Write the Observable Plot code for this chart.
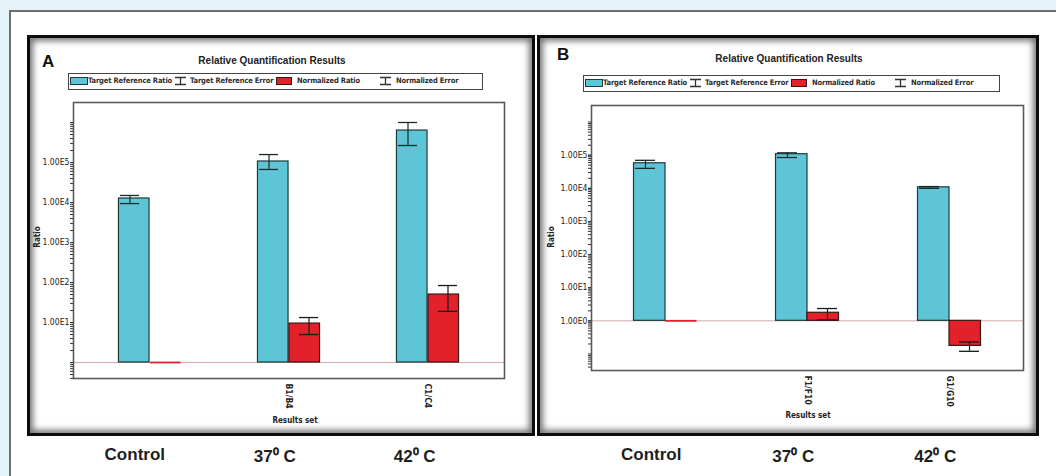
<!DOCTYPE html>
<html>
<head>
<meta charset="utf-8">
<script src="https://cdn.jsdelivr.net/npm/d3@7"></script>
<script src="https://cdn.jsdelivr.net/npm/@observablehq/plot@0.6"></script>
<style>
  html, body { margin: 0; padding: 0; background: #fff; }
  #fig { position: relative; width: 1056px; height: 476px; overflow: hidden; background: #fff;
         font-family: "Liberation Sans", Arial, sans-serif; }
  .abs { position: absolute; white-space: nowrap; }
  .panel { position: absolute; box-sizing: border-box; border: 3px solid #0c0c0c;
           box-shadow: inset 0 0 6px 3px rgba(0,0,0,0.55); background: #fff; }
  .title { font-weight: bold; font-size: 10px; color: #222; transform: translate(-50%, -50%); }
  .letter { font-weight: bold; font-size: 17px; color: #111; }
  .legend { position: absolute; box-sizing: border-box; border: 1.5px solid #444; height: 17px; background: #fff; }
  .legtext { position: absolute; top: 2px; font-family: "DejaVu Sans Condensed", "Liberation Sans Narrow", sans-serif;
             font-weight: bold; font-size: 7.5px; color: #2e2e2e; letter-spacing: -0.15px; }
  .sw { position: absolute; top: 3px; height: 8px; box-sizing: border-box; border: 1.2px solid #1d3a3c; }
  .axlab { font-family: "DejaVu Sans Condensed", sans-serif; font-weight: bold; font-size: 8px; color: #222; }
  .bottom { font-weight: bold; font-size: 17px; color: #1e1e1e; transform: translate(-50%, -50%); }
  svg text { font-family: "DejaVu Sans Condensed", "Liberation Sans Narrow", sans-serif; }
</style>
</head>
<body>
<div id="fig"></div>
<script>
// ---------------- data ----------------
const conditions = ["Control", "37⁰ C", "42⁰ C"];
const seriesNames = ["Target Reference Ratio", "Target Reference Error", "Normalized Ratio", "Normalized Error"];
const chartTitle = "Relative Quantification Results";

// Panel A
const resultSetsA = ["", "B1/B4", "C1/C4"];
const targetRatioA = [12600, 106000, 630000];
const targetErrLowA = [9400, 67000, 266000];
const targetErrHighA = [15000, 158000, 1000000];
const normRatioA = [1, 9.4, 50];
const normErrLowA = [null, 5, 19];
const normErrHighA = [null, 13.3, 84];
const yTicksA = [1e1, 1e2, 1e3, 1e4, 1e5];

// Panel B
const resultSetsB = ["", "F1/F10", "G1/G10"];
const targetRatioB = [57000, 107000, 10700];
const targetErrLowB = [40000, 85000, 10000];
const targetErrHighB = [70000, 118000, 11300];
const normRatioB = [1, 1.75, 0.175];
const normErrLowB = [null, 1.07, 0.12];
const normErrHighB = [null, 2.35, 0.23];
const yTicksB = [1e0, 1e1, 1e2, 1e3, 1e4, 1e5];

// ---------------- style / layout ----------------
const cyan = "#5ec5d6", red = "#e3212b", barStroke = "#1d3a3c";
const fig = document.getElementById("fig");

function el(cls, css, text) {
  const d = document.createElement("div");
  d.className = "abs " + (cls || "");
  Object.assign(d.style, css);
  if (text != null) d.textContent = text;
  fig.appendChild(d);
  return d;
}

// background strips and outer border
el("", {left: "0px", top: "0px", width: "1056px", height: "10px", background: "#e3f3f9"});
el("", {left: "0px", top: "0px", width: "9px", height: "476px", background: "#e3f3f9"});
el("", {left: "9px", top: "10px", width: "1047px", height: "1.5px", background: "#6f6f6f"});
el("", {left: "9px", top: "10px", width: "1.5px", height: "466px", background: "#6f6f6f"});

const fmt = d => d.toExponential(2).replace("e+", "E").replace("e-", "E-");

function errIcon(left) {
  const ns = "http://www.w3.org/2000/svg";
  const s = document.createElementNS(ns, "svg");
  s.setAttribute("width", 15); s.setAttribute("height", 10);
  s.innerHTML = '<path d="M2,1.5H13M2,8.5H13M7.5,1.5V8.5" stroke="#333" stroke-width="1.3" fill="none"/>';
  s.style.position = "absolute"; s.style.left = left + "px"; s.style.top = "2px";
  return s;
}

function makePanel(cfg) {
  // frame
  el("panel", {left: cfg.frame[0] + "px", top: cfg.frame[1] + "px", width: cfg.frame[2] + "px", height: cfg.frame[3] + "px"});
  // letter + title
  el("letter", {left: cfg.letter[0] + "px", top: cfg.letter[1] + "px"}, cfg.name);
  el("title", {left: cfg.title[0] + "px", top: cfg.title[1] + "px"}, chartTitle);
  // legend
  const lg = el("legend", {left: cfg.legend[0] + "px", top: cfg.legend[1] + "px", width: cfg.legend[2] + "px"});
  const sw1 = document.createElement("div"); sw1.className = "sw";
  Object.assign(sw1.style, {left: "1px", width: "18px", background: cyan}); lg.appendChild(sw1);
  const sw2 = document.createElement("div"); sw2.className = "sw";
  Object.assign(sw2.style, {left: "207px", width: "16px", background: red, borderColor: "#3a1515"}); lg.appendChild(sw2);
  lg.appendChild(errIcon(104));
  lg.appendChild(errIcon(309));
  [[19, 0], [121, 1], [228, 2], [327, 3]].forEach(([x, i]) => {
    const t = document.createElement("div"); t.className = "legtext";
    t.style.left = x + "px"; t.textContent = seriesNames[i]; lg.appendChild(t);
  });

  // data rows
  const rows = conditions.map((c, i) => ({
    cond: c, target: cfg.target[i], tLo: cfg.tLo[i], tHi: cfg.tHi[i],
    norm: cfg.norm[i], nLo: cfg.nLo[i], nHi: cfg.nHi[i]
  }));
  const s = cfg.svg;
  const innerW = s.width - s.mL - s.mR;
  const po = cfg.po;
  const bw = innerW / (conditions.length + 2 * po);
  const barW = 31.5, capW = 20, errOff = 20;
  const withNormErr = rows.filter(d => d.nLo != null);

  const minor = [];
  for (let e = -2; e <= 5; e++) for (let k = 1; k <= 9; k++) {
    const v = k * Math.pow(10, e);
    if (v >= cfg.yDomain[0] && v <= 1e6) minor.push(v);
  }
  minor.push(1e6);

  const capT = {insetLeft: bw / 2 - errOff - capW / 2, insetRight: bw / 2 + errOff - capW / 2};
  const capN = {insetLeft: bw / 2 + errOff - capW / 2, insetRight: bw / 2 - errOff - capW / 2};

  const plot = Plot.plot({
    width: s.width, height: s.height,
    marginLeft: s.mL, marginRight: s.mR, marginTop: s.mT, marginBottom: s.mB,
    style: {background: "transparent", fontSize: "8px", color: "#222", overflow: "visible"},
    x: {domain: conditions, paddingInner: 0, paddingOuter: po},
    y: {type: "log", domain: cfg.yDomain},
    marks: [
      Plot.ruleY([1], {stroke: "#d3a9a9", strokeWidth: 1}),
      Plot.barY(rows, {x: "cond", y1: 1, y2: "target", fill: cyan, stroke: barStroke, strokeWidth: 1.2,
        insetLeft: bw / 2 - barW, insetRight: bw / 2}),
      Plot.barY(rows.filter(d => d.norm !== 1), {x: "cond", y1: 1, y2: "norm", fill: red, stroke: "#3a1515", strokeWidth: 1.2,
        insetLeft: bw / 2, insetRight: bw / 2 - barW}),
      Plot.tickY(rows.filter(d => d.norm === 1), {x: "cond", y: "norm", stroke: red, strokeWidth: 1.8,
        insetLeft: bw / 2, insetRight: bw / 2 - barW}),
      Plot.ruleX(rows, {x: "cond", y1: "tLo", y2: "tHi", dx: -errOff, stroke: "#1a2a2a", strokeWidth: 1.2}),
      Plot.tickY(rows, {x: "cond", y: "tHi", stroke: "#1a2a2a", strokeWidth: 1.3, ...capT}),
      Plot.tickY(rows, {x: "cond", y: "tLo", stroke: "#1a2a2a", strokeWidth: 1.3, ...capT}),
      Plot.ruleX(withNormErr, {x: "cond", y1: "nLo", y2: "nHi", dx: errOff, stroke: "#1a1a1a", strokeWidth: 1.2}),
      Plot.tickY(withNormErr, {x: "cond", y: "nHi", stroke: "#1a1a1a", strokeWidth: 1.3, ...capN}),
      Plot.tickY(withNormErr, {x: "cond", y: "nLo", stroke: "#1a1a1a", strokeWidth: 1.3, ...capN}),
      Plot.frame({stroke: "#5a5a5a", strokeWidth: 1.6}),
      Plot.axisY({ticks: minor, tickSize: 3, tickFormat: () => "", stroke: "#333", label: null}),
      Plot.axisY({ticks: cfg.yTicks, tickSize: 3, tickPadding: 1, tickFormat: fmt, stroke: "#333",
        fill: "#222", fontSize: 8.6, label: null}),
      Plot.axisX({tickRotate: 90, tickSize: 0, tickPadding: 5, fontWeight: "bold", fontSize: 8.5, fill: "#222",
        tickFormat: c => cfg.sets[conditions.indexOf(c)], label: null})
    ]
  });
  plot.style.position = "absolute";
  plot.style.left = s.left + "px";
  plot.style.top = s.top + "px";
  fig.appendChild(plot);

  // axis titles
  el("axlab", {left: cfg.ratio[0] + "px", top: cfg.ratio[1] + "px", transform: "translate(-50%,-50%) rotate(-90deg)"}, "Ratio");
  el("axlab", {left: cfg.rset[0] + "px", top: cfg.rset[1] + "px", transform: "translate(-50%,-50%)"}, "Results set");

  // condition labels under the panel, aligned with the cyan bars via the x scale
  const xs = plot.scale("x");
  const xscale = d3.scaleBand().domain(xs.domain).range(xs.range).paddingInner(0).paddingOuter(po);
  conditions.forEach(c => {
    const cx = s.left + xscale(c) + xscale.bandwidth() / 2 - barW / 2 + 2;
    el("bottom", {left: cx + "px", top: "455px"}, c);
  });
}

makePanel({
  name: "A", frame: [27, 35, 508, 401], letter: [42, 52], title: [272, 60], legend: [68, 73, 415],
  svg: {left: 30, top: 95, width: 479, height: 333, mL: 43, mR: 5, mT: 7, mB: 50},
  po: 0.04, yDomain: [Math.pow(10, -0.4), Math.pow(10, 6.5)], yTicks: yTicksA,
  sets: resultSetsA, target: targetRatioA, tLo: targetErrLowA, tHi: targetErrHighA,
  norm: normRatioA, nLo: normErrLowA, nHi: normErrHighA,
  ratio: [37, 237], rset: [295, 420]
});

makePanel({
  name: "B", frame: [537, 35, 502, 401], letter: [557, 45], title: [789, 58], legend: [583, 75, 417],
  svg: {left: 548, top: 98, width: 480, height: 322, mL: 43, mR: 5, mT: 7, mB: 50},
  po: 0.021, yDomain: [Math.pow(10, -1.5), Math.pow(10, 6.5)], yTicks: yTicksB,
  sets: resultSetsB, target: targetRatioB, tLo: targetErrLowB, tHi: targetErrHighB,
  norm: normRatioB, nLo: normErrLowB, nHi: normErrHighB,
  ratio: [551, 237], rset: [808, 415]
});
</script>
</body>
</html>
